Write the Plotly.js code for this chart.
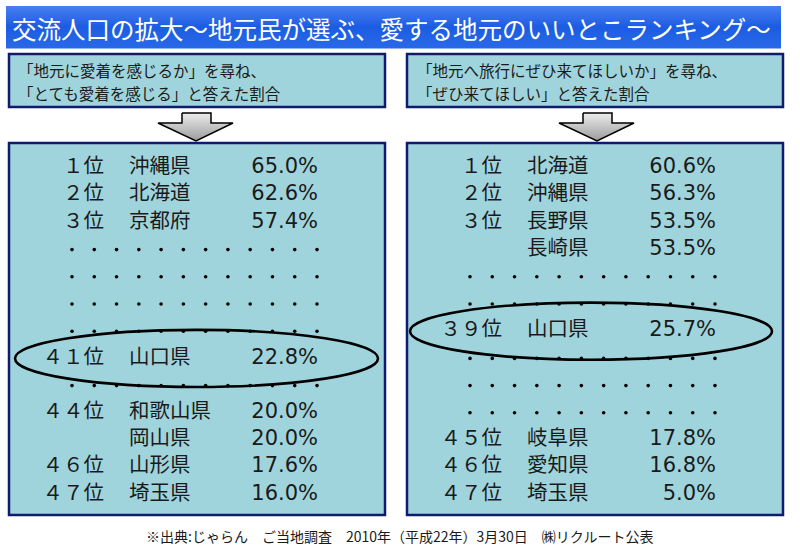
<!DOCTYPE html>
<html><head><meta charset="utf-8">
<script src="https://cdn.plot.ly/plotly-3.0.1.min.js"></script>
<style>html,body{margin:0;padding:0;background:#fff;overflow:hidden}</style>
</head><body><div id="chart" style="width:800px;height:554px"></div>
<script>
// ---------- data ----------
const titleText = "交流人口の拡大～地元民が選ぶ、愛する地元のいいとこランキング～";
const leftHeader = ["「地元に愛着を感じるか」を尋ね、", "「とても愛着を感じる」と答えた割合"];
const rightHeader = ["「地元へ旅行にぜひ来てほしいか」を尋ね、", "「ぜひ来てほしい」と答えた割合"];
const sourceNote = "※出典:じゃらん　ご当地調査　2010年（平成22年）3月30日　㈱リクルート公表";
const highlightPref = "山口県";

// null = dotted separator row
const leftRanks  = ["１位","２位","３位",null,null,null,null,"４１位",null,"４４位","","４６位","４７位"];
const leftPrefs  = ["沖縄県","北海道","京都府",null,null,null,null,"山口県",null,"和歌山県","岡山県","山形県","埼玉県"];
const leftValues = [65.0,62.6,57.4,null,null,null,null,22.8,null,20.0,20.0,17.6,16.0];

const rightRanks  = ["１位","２位","３位","",null,null,"３９位",null,null,null,"４５位","４６位","４７位"];
const rightPrefs  = ["北海道","沖縄県","長野県","長崎県",null,null,"山口県",null,null,null,"岐阜県","愛知県","埼玉県"];
const rightValues = [60.6,56.3,53.5,53.5,null,null,25.7,null,null,null,17.8,16.8,5.0];

// ---------- styling / layout ----------
const JP = "Noto Sans CJK JP, sans-serif";
const NUM = "DejaVu Sans, Noto Sans CJK JP, sans-serif";
const TXT = "#1a1a1a";
const BOXFILL = "#a0d4dc";
const BORDER = "#101a6e";

const panels = [
  {ranks: leftRanks, prefs: leftPrefs, values: leftValues, rankX: 104, prefX: 129, valX: 318, dotX0: 72, dotX1: 317,
   header: leftHeader, hx: 16, box: [9,385], ell: [15,378], arrowC: 196},
  {ranks: rightRanks, prefs: rightPrefs, values: rightValues, rankX: 502, prefX: 527, valX: 716, dotX0: 470, dotX1: 715,
   header: rightHeader, hx: 415, box: [407,783], ell: [410,772], arrowC: 597}
];

const traces = [];
const shapes = [];
const annotations = [];

// title bar (vertical gradient via stacked strips)
const tb = {x0: 6, x1: 781, y0: 6, y1: 48};
const gradTop = [70,125,240], gradMid = [28,92,226], gradBot = [40,104,232];
const strips = 21;
for (let i = 0; i < strips; i++) {
  const t = i/(strips-1);
  const a = t < 0.5 ? gradTop : gradMid, b = t < 0.5 ? gradMid : gradBot;
  const u = t < 0.5 ? t*2 : (t-0.5)*2;
  const c = a.map((v,k)=>Math.round(v+(b[k]-v)*u));
  shapes.push({type:'rect', xref:'x', yref:'y', layer:'below',
    x0: tb.x0, x1: tb.x1, y0: tb.y0 + (tb.y1-tb.y0)*i/strips, y1: tb.y0 + (tb.y1-tb.y0)*(i+1)/strips + 0.5,
    fillcolor: `rgb(${c.join(',')})`, line:{width:0}});
}
annotations.push({xref:'x', yref:'y', x: 10, y: 28, xanchor:'left', yanchor:'middle', showarrow:false,
  text: titleText, font:{family: JP, size: 24.5, color:'#ffffff'}});

panels.forEach(p => {
  // header box
  shapes.push({type:'rect', xref:'x', yref:'y', layer:'below', x0: p.box[0], x1: p.box[1], y0: 54, y1: 107,
    fillcolor: BOXFILL, line:{color: BORDER, width: 2.5}});
  p.header.forEach((line, i) => annotations.push({xref:'x', yref:'y', x: p.hx, y: 70 + i*22.5, xanchor:'left', yanchor:'middle',
    showarrow:false, text: line, font:{family: JP, size: 15.5, color: TXT}}));
  // content box
  shapes.push({type:'rect', xref:'x', yref:'y', layer:'below', x0: p.box[0], x1: p.box[1], y0: 143, y1: 515,
    fillcolor: BOXFILL, line:{color: BORDER, width: 2.5}});
  // arrow
  const c = p.arrowC;
  traces.push({type:'scatter', xaxis:'x', yaxis:'y', mode:'lines', hoverinfo:'skip', showlegend:false,
    x: [c-14, c+15, c+15, c+37, c, c-38, c-14, c-14],
    y: [113, 113, 123, 123, 141, 123, 123, 113],
    fill:'toself', fillgradient:{type:'vertical', colorscale:[[0,'#9c9c9c'],[1,'#ececec']]},
    line:{color:'#000', width:1.5}});

  // rows
  const rows = p.prefs.map((_, i) => i);
  const textRows = rows.filter(i => p.prefs[i] !== null);
  traces.push({type:'scatter', xaxis:'x', yaxis:'y2', mode:'text', hoverinfo:'skip', showlegend:false,
    x: textRows.map(() => p.rankX), y: textRows, text: textRows.map(i => p.ranks[i]),
    textposition:'middle left', textfont:{family: JP, size: 20.5, color: TXT}});
  traces.push({type:'scatter', xaxis:'x', yaxis:'y2', mode:'text', hoverinfo:'skip', showlegend:false,
    x: textRows.map(() => p.prefX), y: textRows, text: textRows.map(i => p.prefs[i]),
    textposition:'middle right', textfont:{family: JP, size: 20.5, color: TXT}});
  traces.push({type:'scatter', xaxis:'x', yaxis:'y2', mode:'text', hoverinfo:'skip', showlegend:false,
    x: textRows.map(() => p.valX), y: textRows, text: textRows.map(i => p.values[i].toFixed(1) + "%"),
    textposition:'middle left', textfont:{family: NUM, size: 21, color: TXT}});
  // dotted separator rows
  const dotRows = rows.filter(i => p.prefs[i] === null);
  const nDots = 12;
  const dx = [], dy = [];
  dotRows.forEach(r => { for (let k = 0; k < nDots; k++) { dx.push(p.dotX0 + (p.dotX1-p.dotX0)*k/(nDots-1)); dy.push(r); } });
  traces.push({type:'scatter', xaxis:'x', yaxis:'y2', mode:'markers', hoverinfo:'skip', showlegend:false,
    x: dx, y: dy, marker:{size: 3.6, color:'#000'}});
  // highlight ellipse around the Yamaguchi row
  const hr = p.prefs.indexOf(highlightPref);
  shapes.push({type:'circle', xref:'x', yref:'y2', layer:'above', x0: p.ell[0], x1: p.ell[1], y0: hr - 1.05, y1: hr + 1.05,
    line:{color:'#000', width: 2.6}});
});

annotations.push({xref:'x', yref:'y', x: 399, y: 536, xanchor:'center', yanchor:'middle', showarrow:false,
  text: sourceNote, font:{family: JP, size: 14, color: TXT}});

const layout = {
  width: 800, height: 554,
  margin:{l:0, r:0, t:0, b:0},
  paper_bgcolor:'#ffffff', plot_bgcolor:'rgba(0,0,0,0)',
  showlegend:false,
  xaxis:{range:[0,800], domain:[0,1], visible:false, fixedrange:true},
  yaxis:{range:[554,0], domain:[0,1], visible:false, fixedrange:true},
  yaxis2:{range:[12.757,-0.919], domain:[1-515/554, 1-143/554], anchor:'x', visible:false, fixedrange:true},
  shapes, annotations
};
Plotly.newPlot('chart', traces, layout, {staticPlot:true, displayModeBar:false});
</script></body></html>
